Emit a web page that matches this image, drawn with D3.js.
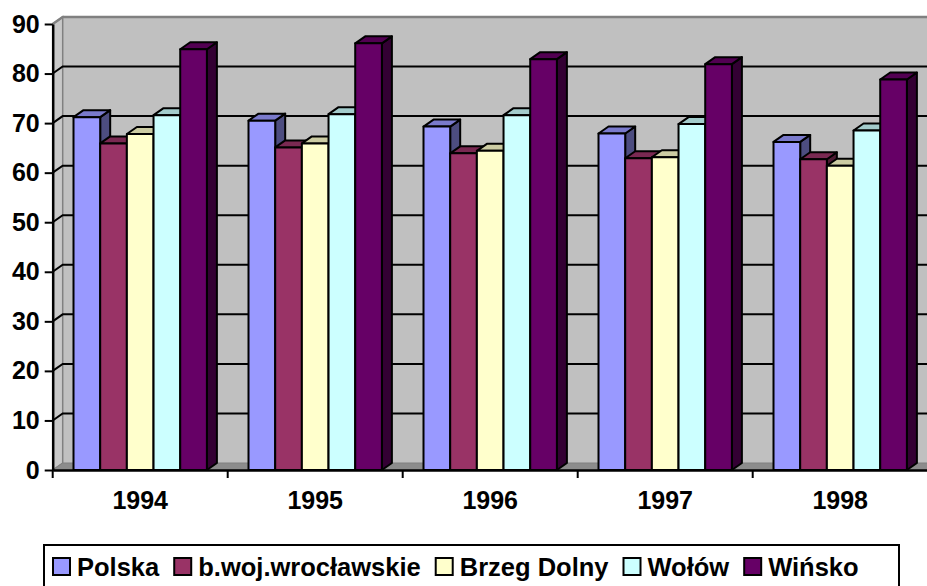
<!DOCTYPE html>
<html>
<head>
<meta charset="utf-8">
<script src="https://cdn.jsdelivr.net/npm/d3@7"></script>
<style>
  body { margin: 0; background: #fff; }
  text { font-family: "Liberation Sans", Arial, sans-serif; font-weight: bold; fill: #000; }
</style>
</head>
<body>
<div id="chart"></div>
<script>
const years = ['1994', '1995', '1996', '1997', '1998'];
const seriesNames = ['Polska', 'b.woj.wrocławskie', 'Brzeg Dolny', 'Wołów', 'Wińsko'];
const seriesColors = ['#9999ff', '#993366', '#ffffcc', '#ccffff', '#660066'];
const polska = [71.2, 70.5, 69.3, 67.9, 66.2];
const bWoj = [65.9, 65.1, 63.9, 62.9, 62.7];
const brzegDolny = [67.8, 65.9, 64.4, 63.1, 61.4];
const wolow = [71.6, 71.8, 71.6, 69.8, 68.5];
const winsko = [84.9, 86.1, 82.9, 81.9, 78.8];
const yTicks = [0, 10, 20, 30, 40, 50, 60, 70, 80, 90];

const seriesValues = [polska, bWoj, brzegDolny, wolow, winsko];

const width = 927, height = 586;
const dx = 10, dy = -7;   // depth offset of the 3d walls and bars

const svg = d3.select('#chart')
  .append('svg')
  .attr('width', width)
  .attr('height', height);

const x0 = d3.scaleBand().domain(years).range([52.7, 927.7]);
const x1 = d3.scaleBand().domain(seriesNames)
  .range([0, x0.bandwidth()])
  .paddingInner(0)
  .paddingOuter(0.78);
const y = d3.scaleLinear().domain([0, 90]).range([470, 24]);

const left = x0.range()[0], right = x0.range()[1];

// walls and floor
svg.append('rect')
  .attr('x', left + dx).attr('y', y(90) + dy)
  .attr('width', right - left).attr('height', y(0) - y(90))
  .attr('fill', '#c0c0c0');

svg.append('polygon')
  .attr('points', [[left, y(90)], [left + dx, y(90) + dy], [left + dx, y(0) + dy], [left, y(0)]].join(' '))
  .attr('fill', '#c8c8c8')
  .attr('stroke', '#808080')
  .attr('stroke-width', 1.5);

svg.append('polygon')
  .attr('points', [[left, y(0)], [left + dx, y(0) + dy], [right + dx, y(0) + dy], [right, y(0)]].join(' '))
  .attr('fill', '#8c8c8c')
  .attr('stroke', '#808080')
  .attr('stroke-width', 1);

// gridlines on left wall + back wall
svg.append('g')
  .selectAll('polyline')
  .data(yTicks.filter(d => d > 0))
  .enter()
  .append('polyline')
  .attr('points', d => [[left, y(d)], [left + dx, y(d) + dy], [right + dx, y(d) + dy]].join(' '))
  .attr('fill', 'none')
  .attr('stroke', d => d === 90 ? '#808080' : '#000')
  .attr('stroke-width', d => d === 90 ? 2.5 : 2);

// bars, drawn left to right so the next front face hides the hidden side
function shade(color, k)
{
  const c = d3.rgb(color);
  return d3.rgb(c.r * k, c.g * k, c.b * k).formatHex();
}

const bars = [];
years.forEach((yr, j) => {
  seriesNames.forEach((name, i) => {
    bars.push({year: yr, name: name, color: seriesColors[i], value: seriesValues[i][j]});
  });
});

const barG = svg.append('g')
  .attr('stroke', '#000')
  .attr('stroke-width', 2)
  .attr('stroke-linejoin', 'round');

bars.forEach(b => {
  const xa = x0(b.year) + x1(b.name);
  const xb = xa + x1.bandwidth();
  const yt = y(b.value), yb = y(0);
  const g = barG.append('g');
  g.append('polygon')
    .attr('points', [[xb, yt], [xb + dx, yt + dy], [xb + dx, yb + dy], [xb, yb]].join(' '))
    .attr('fill', shade(b.color, 0.5));
  g.append('polygon')
    .attr('points', [[xa, yt], [xa + dx, yt + dy], [xb + dx, yt + dy], [xb, yt]].join(' '))
    .attr('fill', shade(b.color, 0.8));
  g.append('rect')
    .attr('x', xa).attr('y', yt)
    .attr('width', xb - xa).attr('height', yb - yt)
    .attr('fill', b.color);
});

// axes
const yAxis = svg.append('g')
  .attr('transform', `translate(${left},0)`)
  .call(d3.axisLeft(y).tickValues(yTicks).tickSize(8).tickSizeOuter(0).tickPadding(5));
yAxis.select('.domain').attr('stroke', '#000').attr('stroke-width', 2.5);
yAxis.selectAll('.tick line').attr('stroke', '#000').attr('stroke-width', 2);
yAxis.selectAll('.tick text').attr('font-size', 25);

const xAxis = svg.append('g')
  .attr('transform', `translate(0,${y(0)})`)
  .call(d3.axisBottom(x0).tickSize(0).tickSizeOuter(0).tickPadding(21));
xAxis.select('.domain').attr('stroke', '#000').attr('stroke-width', 2.5);
xAxis.selectAll('.tick text').attr('font-size', 25);

svg.append('g')
  .selectAll('line')
  .data(years)
  .enter()
  .append('line')
  .attr('x1', d => x0(d)).attr('x2', d => x0(d))
  .attr('y1', y(0)).attr('y2', y(0) + 8)
  .attr('stroke', '#000')
  .attr('stroke-width', 2);

// legend
const legend = svg.append('g');
legend.append('rect')
  .attr('x', 44).attr('y', 545)
  .attr('width', 855).attr('height', 60)
  .attr('fill', 'none')
  .attr('stroke', '#000')
  .attr('stroke-width', 2);

let lx = 53;
seriesNames.forEach((name, i) => {
  legend.append('rect')
    .attr('x', lx).attr('y', 558)
    .attr('width', 17).attr('height', 17)
    .attr('fill', seriesColors[i])
    .attr('stroke', '#000')
    .attr('stroke-width', 2);
  const t = legend.append('text')
    .attr('x', lx + 24).attr('y', 576)
    .attr('font-size', 25.5)
    .text(name);
  lx += 24 + t.node().getComputedTextLength() + 15;
});
</script>
</body>
</html>
